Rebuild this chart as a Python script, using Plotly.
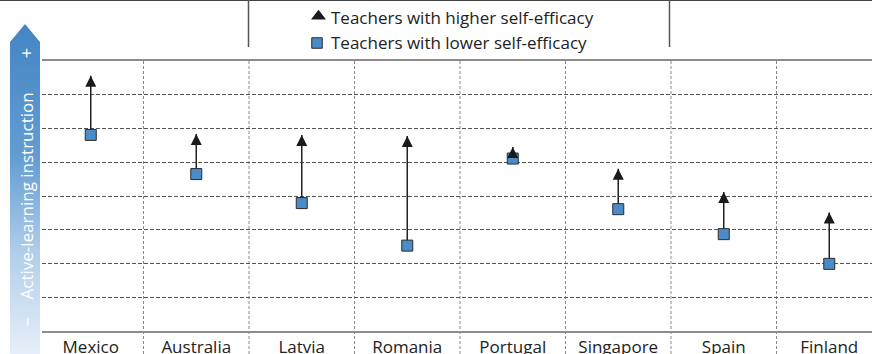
import plotly.graph_objects as go

# Active-learning instruction index by teacher self-efficacy group
countries = ["Mexico", "Australia", "Latvia", "Romania", "Portugal", "Singapore", "Spain", "Finland"]
higher_efficacy = [7.56, 5.84, 5.81, 5.78, 5.45, 4.81, 4.12, 3.51]
lower_efficacy = [5.81, 4.65, 3.79, 2.53, 5.11, 3.61, 2.87, 1.99]

legend_labels = ["Teachers with higher self-efficacy", "Teachers with lower self-efficacy"]
axis_title = "Active-learning instruction"

W, H = 872, 354
FONT = "Open Sans"
BLUE = "#4a8cc8"
INK = "#222222"

# plot area in pixels
px_left, px_top, px_bottom = 42, 61, 331
y_dom = [(H - px_bottom) / H, (H - px_top) / H]

fig = go.Figure()

# connectors from lower to higher value
cx, cy = [], []
for c, lo, hi in zip(countries, lower_efficacy, higher_efficacy):
    cx += [c, c, None]
    cy += [lo, hi, None]
fig.add_trace(go.Scatter(x=cx, y=cy, mode="lines", line=dict(color=INK, width=1.5),
                         hoverinfo="skip", showlegend=False))

fig.add_trace(go.Scatter(x=countries, y=lower_efficacy, mode="markers", name=legend_labels[1],
                         marker=dict(symbol="square", size=11, color=BLUE,
                                     line=dict(color="#2b2b2b", width=1)),
                         showlegend=False))
fig.add_trace(go.Scatter(x=countries, y=higher_efficacy, mode="markers", name=legend_labels[0],
                         marker=dict(symbol="arrow-up", size=11, color="#1a1a1a",
                                     line=dict(width=0)),
                         showlegend=False))

# decorative overlay in pixel space (y measured from the bottom)
fig.add_trace(go.Scatter(
    x=[10, 10, 25, 40, 40, 10], y=[0, 312, 330, 312, 0, 0],
    xaxis="x2", yaxis="y2", mode="lines", line=dict(width=0), fill="toself",
    fillgradient=dict(type="vertical", start=0, stop=330,
                      colorscale=[[0, "#e6eff9"], [0.3, "#b3cfeb"], [0.6, "#629cd2"], [1, "#4585c4"]]),
    hoverinfo="skip", showlegend=False))

# legend swatches
fig.add_trace(go.Scatter(x=[318.5], y=[H - 16.3], xaxis="x2", yaxis="y2", mode="markers",
                         marker=dict(symbol="triangle-up", size=13, color="#1a1a1a", line=dict(width=0)),
                         hoverinfo="skip", showlegend=False))
fig.add_trace(go.Scatter(x=[317], y=[H - 43], xaxis="x2", yaxis="y2", mode="markers",
                         marker=dict(symbol="square", size=10.5, color=BLUE,
                                     line=dict(color="#2b2b2b", width=1)),
                         hoverinfo="skip", showlegend=False))

annotations = [
    dict(x=329, y=H - 17, xref="x2", yref="y2", text=legend_labels[0], showarrow=False,
         xanchor="left", yanchor="middle", font=dict(family=FONT, size=17, color=INK)),
    dict(x=329, y=H - 42, xref="x2", yref="y2", text=legend_labels[1], showarrow=False,
         xanchor="left", yanchor="middle", font=dict(family=FONT, size=17, color=INK)),
    dict(x=25.5, y=H - 196, xref="x2", yref="y2", text=axis_title, textangle=-90, showarrow=False,
         xanchor="center", yanchor="middle", font=dict(family=FONT, size=17, color="white")),
    dict(x=25.5, y=H - 53, xref="x2", yref="y2", text="+", textangle=-90, showarrow=False,
         xanchor="center", yanchor="middle", font=dict(family=FONT, size=19, color="white")),
    dict(x=25.5, y=H - 322, xref="x2", yref="y2", text="–", textangle=-90, showarrow=False,
         xanchor="center", yanchor="middle", font=dict(family=FONT, size=18, color="white")),
]

shapes = []
# column separators running down through the label band
for i in range(len(countries) - 1):
    shapes.append(dict(type="line", xref="x", yref="paper", x0=i + 0.5, x1=i + 0.5,
                       y0=0, y1=y_dom[1], line=dict(color="#8a8a8a", width=1, dash="3px,2px"),
                       layer="below"))
# frame at the top and legend box sides
shapes.append(dict(type="line", xref="paper", yref="paper", x0=0, x1=1, y0=1, y1=1,
                   line=dict(color="#444444", width=2)))
for xp in (248.5, 669.5):
    shapes.append(dict(type="line", xref="paper", yref="paper", x0=xp / W, x1=xp / W,
                       y0=(H - 47) / H, y1=1, line=dict(color="#555555", width=1.5)))

x_lo = 0.5 - (143.5 - px_left) / 105.5
x_hi = 0.5 + (W - 143.5) / 105.5

fig.update_layout(
    width=W, height=H, margin=dict(l=0, r=0, t=0, b=0),
    paper_bgcolor="white", plot_bgcolor="rgba(0,0,0,0)",
    showlegend=False, shapes=shapes, annotations=annotations,
    xaxis=dict(domain=[px_left / W, 1], type="category", categoryorder="array",
               categoryarray=countries, range=[x_lo, x_hi], showgrid=False,
               showline=True, mirror=True, linecolor="#8c8c8c", linewidth=2,
               ticks="", tickfont=dict(family=FONT, size=17, color=INK), zeroline=False,
               automargin=False),
    yaxis=dict(domain=y_dom, range=[0, 8], dtick=1, showticklabels=False,
               showgrid=True, gridcolor="#555555", gridwidth=1, griddash="4px,2px",
               zeroline=False, showline=False, ticks="", automargin=False),
    xaxis2=dict(domain=[0, 1], range=[0, W], visible=False, fixedrange=True, automargin=False),
    yaxis2=dict(domain=[0, 1], range=[0, H], visible=False, fixedrange=True, anchor="x2",
                automargin=False),
)

fig.write_html("out.html")
